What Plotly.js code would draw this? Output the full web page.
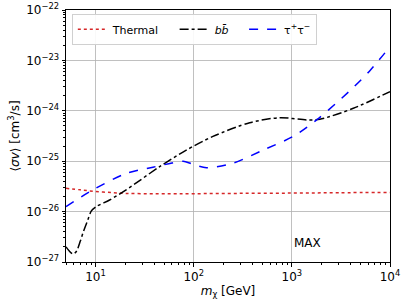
<!DOCTYPE html>
<html>
<head>
<meta charset="utf-8">
<script src="https://cdn.plot.ly/plotly-3.0.1.min.js"></script>
<style>html,body{margin:0;padding:0;background:#fff;}#chart{width:407px;height:305px;}</style>
</head>
<body>
<div id="chart"></div>
<script>
// Thermal relic cross section
const thermalMass = [5, 7, 10, 15, 20, 30, 50, 100, 300, 1000, 3000, 10000];
const thermalSigma = [2.9e-26, 2.7e-26, 2.5e-26, 2.38e-26, 2.3e-26, 2.27e-26, 2.26e-26, 2.27e-26, 2.3e-26, 2.33e-26, 2.37e-26, 2.4e-26];

// b bbar channel
const bbMass = [5, 5.4, 5.86, 6.35, 7.0, 7.42, 8.34, 9.04, 10.2, 13.9, 20.5, 45, 84, 157, 372, 755, 1413, 1930, 4230, 10000];
const bbSigma = [2.0e-27, 1.65e-27, 1.45e-27, 1.6e-27, 2.6e-27, 3.7e-27, 6.8e-27, 1.02e-26, 1.26e-26, 1.7e-26, 2.7e-26, 7.8e-26, 1.66e-25, 3.1e-25, 5.8e-25, 7.3e-25, 6.6e-25, 6.8e-25, 1.12e-24, 2.4e-24];

// tau+ tau- channel
const tauMass = [5, 9.4, 20.5, 38.5, 60, 78, 98, 135, 251, 509, 1030, 1790, 3900, 6300, 10000];
const tauSigma = [1.26e-26, 2.7e-26, 5.7e-26, 7.6e-26, 9.2e-26, 1.0e-25, 8.7e-26, 7.4e-26, 9.1e-26, 1.66e-25, 3.1e-25, 6.6e-25, 2.5e-24, 6.4e-24, 1.87e-23];

const pad = '\u00a0\u00a0\u00a0';
const seriesNames = ['Thermal' + pad, '<i>b</i><i>b̄</i>' + pad, 'τ<sup>+</sup>τ<sup>−</sup>'];

const xTickVals = [10, 100, 1000, 10000];
const xTickText = ['10<sup>1</sup>', '10<sup>2</sup>', '10<sup>3</sup>', '10<sup>4</sup>'];
const yTickVals = [1e-27, 1e-26, 1e-25, 1e-24, 1e-23, 1e-22];
const yTickText = ['10<sup>−27</sup>', '10<sup>−26</sup>', '10<sup>−25</sup>', '10<sup>−24</sup>', '10<sup>−23</sup>', '10<sup>−22</sup>'];

function minorVals(lo, hi) {
  const out = [];
  for (let e = lo; e <= hi; e++) for (let m = 2; m <= 9; m++) out.push(m * Math.pow(10, e));
  return out;
}

const traces = [
  {x: thermalMass, y: thermalSigma, name: seriesNames[0], mode: 'lines',
   line: {color: '#d62728', dash: 'dot', width: 1.5, shape: 'spline'}},
  {x: bbMass, y: bbSigma, name: seriesNames[1], mode: 'lines',
   line: {color: '#000000', dash: 'dashdot', width: 1.5, shape: 'spline', smoothing: 0.8}},
  {x: tauMass, y: tauSigma, name: seriesNames[2], mode: 'lines',
   line: {color: '#0000ff', dash: 'dash', width: 1.5, shape: 'spline', smoothing: 0.8}}
];

const axisCommon = {
  type: 'log', showgrid: true, gridcolor: '#b0b0b0', gridwidth: 0.8,
  showline: true, linecolor: '#000', linewidth: 1, mirror: true,
  ticks: 'outside', ticklen: 3.5, tickcolor: '#000', zeroline: false,
  tickfont: {family: 'DejaVu Sans', size: 12, color: '#000'}
};

const layout = {
  width: 407, height: 305,
  margin: {l: 66, r: 17, t: 10, b: 43},
  paper_bgcolor: '#fff', plot_bgcolor: '#fff',
  font: {family: 'DejaVu Sans', size: 11, color: '#000'},
  showlegend: true,
  legend: {orientation: 'h', x: 0.018, y: 0.985, xanchor: 'left', yanchor: 'top',
           bgcolor: 'rgba(255,255,255,0.9)', bordercolor: '#d0d0d0', borderwidth: 1,
           font: {family: 'DejaVu Sans', size: 11}, itemwidth: 30},
  xaxis: Object.assign({}, axisCommon, {
    range: [Math.log10(5), 4], tickmode: 'array', tickvals: xTickVals, ticktext: xTickText,
    minor: {tickmode: 'array', tickvals: minorVals(0, 3), ticks: 'outside', ticklen: 2, tickcolor: '#000', showgrid: false},
    title: {text: '<i>m</i><sub>χ</sub> [GeV]', font: {family: 'DejaVu Sans', size: 12}, standoff: 3}
  }),
  yaxis: Object.assign({}, axisCommon, {
    range: [-27, -22], tickmode: 'array', tickvals: yTickVals, ticktext: yTickText,
    minor: {tickmode: 'array', tickvals: minorVals(-27, -23), ticks: 'outside', ticklen: 2, tickcolor: '#000', showgrid: false},
    title: {text: '⟨<i>σv</i>⟩ [cm<sup>3</sup>/s]', font: {family: 'DejaVu Sans', size: 12}, standoff: 3}
  }),
  annotations: [{
    x: 3, y: -26.62, xref: 'x', yref: 'y', text: 'MAX', showarrow: false,
    xanchor: 'left', yanchor: 'middle', font: {family: 'DejaVu Sans', size: 12, color: '#000'}
  }]
};

Plotly.newPlot('chart', traces, layout, {staticPlot: true, displayModeBar: false});
</script>
</body>
</html>
